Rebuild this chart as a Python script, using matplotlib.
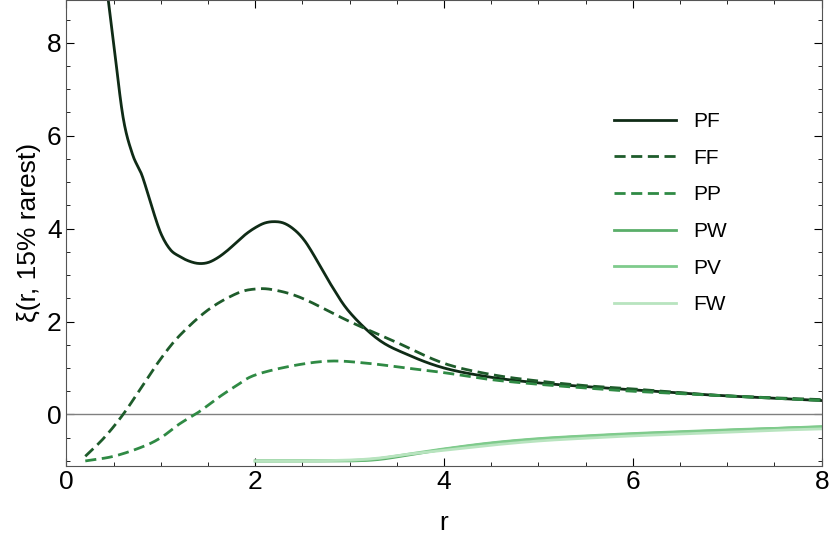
import matplotlib
matplotlib.use("Agg")
import matplotlib.pyplot as plt
import numpy as np
from matplotlib.ticker import MultipleLocator

plt.rcParams["font.family"] = "Liberation Sans"

# ── data ──────────────────────────────────────────────────────────────
pf_r = [0.42, 0.5, 0.6, 0.7, 0.8, 0.9, 1.0, 1.1, 1.2, 1.3, 1.4, 1.5, 1.6, 1.7, 1.8, 1.9,
        2.0, 2.1, 2.2, 2.3, 2.4, 2.5, 2.6, 2.8, 3.0, 3.3, 3.6, 4.0, 4.5, 5.0, 5.5, 6.0,
        6.5, 7.0, 7.5, 8.0]
pf_xi = [9.3, 8.0, 6.4, 5.6, 5.15, 4.5, 3.9, 3.55, 3.4, 3.3, 3.25, 3.27, 3.37, 3.52, 3.7, 3.88,
         4.02, 4.12, 4.15, 4.12, 4.0, 3.8, 3.5, 2.8, 2.2, 1.62, 1.3, 1.0, 0.8, 0.68, 0.6, 0.53,
         0.46, 0.4, 0.35, 0.3]

ff_r = [0.2, 0.4, 0.6, 0.8, 1.0, 1.2, 1.5, 1.8, 2.0, 2.2, 2.5, 3.0, 3.5, 4.0, 4.5, 5.0,
        5.5, 6.0, 6.5, 7.0, 8.0]
ff_xi = [-0.9, -0.5, 0.0, 0.6, 1.2, 1.7, 2.25, 2.6, 2.7, 2.68, 2.5, 2.0, 1.55, 1.1, 0.86, 0.72,
         0.62, 0.55, 0.47, 0.4, 0.32]

pp_r = [0.2, 0.5, 0.8, 1.0, 1.2, 1.4, 1.6, 1.8, 2.0, 2.4, 2.8, 3.2, 3.6, 4.0, 4.5, 5.0,
        5.5, 6.0, 7.0, 8.0]
pp_xi = [-1.0, -0.9, -0.7, -0.5, -0.2, 0.05, 0.35, 0.62, 0.85, 1.05, 1.15, 1.1, 1.0, 0.9, 0.75, 0.65,
         0.57, 0.5, 0.4, 0.3]

w_r = [2.0, 2.5, 3.0, 3.3, 3.6, 4.0, 4.5, 5.0, 5.5, 6.0, 6.5, 7.0, 7.5, 8.0]
pw_xi = [-1.0, -1.0, -1.0, -0.97, -0.88, -0.75, -0.62, -0.53, -0.47, -0.42, -0.38, -0.34, -0.3, -0.27]
pv_xi = [-1.0, -1.0, -0.99, -0.95, -0.86, -0.74, -0.61, -0.52, -0.46, -0.41, -0.37, -0.33, -0.3, -0.26]
fw_xi = [-1.0, -1.0, -0.98, -0.94, -0.86, -0.77, -0.66, -0.57, -0.51, -0.46, -0.42, -0.38, -0.34, -0.31]


def smooth(x, y, n=12):
    """Catmull-Rom through the read-off points, just for a smoother line."""
    x, y = np.asarray(x, float), np.asarray(y, float)
    px = np.concatenate([[2 * x[0] - x[1]], x, [2 * x[-1] - x[-2]]])
    py = np.concatenate([[2 * y[0] - y[1]], y, [2 * y[-1] - y[-2]]])
    t = np.linspace(0, 1, n, endpoint=False)[:, None]
    out_x, out_y = [], []
    for p in (px, py):
        p0, p1, p2, p3 = p[:-3], p[1:-2], p[2:-1], p[3:]
        seg = 0.5 * (2 * p1 + (-p0 + p2) * t + (2 * p0 - 5 * p1 + 4 * p2 - p3) * t ** 2
                     + (-p0 + 3 * p1 - 3 * p2 + p3) * t ** 3)
        (out_x if p is px else out_y).append(np.append(seg.T.ravel(), p[-2]))
    return out_x[0], out_y[0]


# ── styling ───────────────────────────────────────────────────────────
series = [
    ("PF", pf_r, pf_xi, "#0f2b16", "-"),
    ("FF", ff_r, ff_xi, "#1e5c2b", (0, (4, 2))),
    ("PP", pp_r, pp_xi, "#2f8a44", (0, (4, 2))),
    ("PW", w_r, pw_xi, "#5aae69", "-"),
    ("PV", w_r, pv_xi, "#7fcb8c", "-"),
    ("FW", w_r, fw_xi, "#b8e4bf", "-"),
]

fig, ax = plt.subplots(figsize=(8.3, 5.51), dpi=100)
fig.subplots_adjust(left=0.08, right=0.99, top=1.0, bottom=0.155)

ax.axhline(0, color="#808080", lw=1.0)
for name, r, xi, clr, ls in series:
    sx, sy = smooth(r, xi)
    ax.plot(sx, sy, color=clr, ls=ls, lw=2.0, label=name)

ax.set_xlim(0, 8)
ax.set_ylim(-1.1, 8.92)
ax.xaxis.set_major_locator(MultipleLocator(2))
ax.xaxis.set_minor_locator(MultipleLocator(0.5))
ax.yaxis.set_major_locator(MultipleLocator(2))
ax.yaxis.set_minor_locator(MultipleLocator(0.5))
ax.tick_params(which="both", direction="in", top=True, right=True, labelsize=19)
ax.tick_params(which="major", length=6)
ax.tick_params(which="minor", length=3)
for sp in ax.spines.values():
    sp.set_color("#555555")

ax.set_xlabel("r", fontsize=19, labelpad=12)
ax.set_ylabel("ξ(r, 15% rarest)", fontsize=19)

ax.legend(loc="upper left", bbox_to_anchor=(0.7, 0.8), frameon=False,
          fontsize=15, handlelength=3.0, labelspacing=0.85)

fig.savefig("out.png")
